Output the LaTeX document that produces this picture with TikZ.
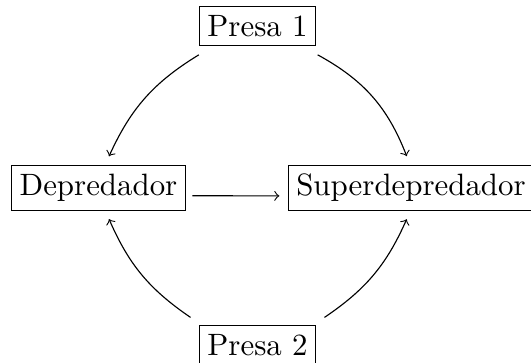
\documentclass[tikz,border=0pt]{standalone}
\usetikzlibrary{calc}
\begin{document}
\begin{tikzpicture}[x=0.3546pt, y=-0.3546pt,
  box/.style={draw, line width=0.4pt, inner xsep=2.85pt, inner ysep=3.1pt,
              font=\fontsize{10.95}{13}\selectfont},
  arr/.style={->, line width=0.4pt}]
\useasboundingbox (0,0) rectangle (531,362);

% species
\node[box] (p1)  at (257.5,25.8)  {Presa 1};
\node[box] (dep) at (98.5,188)    {Depredador};
\node[box] (sup) at (411,188)     {Superdepredador};
\node[box] (p2)  at (257.5,344.8) {Presa 2};

% feeding links
\draw[arr] ($(p1.south west)+(0,9)$) to[bend right=17] ($(dep.north)+(10.5,-8.7)$);
\draw[arr] ($(p1.south east)+(1.5,9)$) to[bend left=20] ($(sup.north)+(-4.3,-8.7)$);
\draw[arr] ($(dep.base east)+(6.5,0)$) -- ($(sup.base west)+(-8.3,0)$);
\draw[arr] ($(p2.north west)+(-8.3,-7.4)$) to[bend left=16] ($(dep.south)+(10.5,8)$);
\draw[arr] ($(p2.north east)+(8.3,-7.4)$) to[bend right=16] ($(sup.south)+(-4.3,8)$);
\end{tikzpicture}
\end{document}
